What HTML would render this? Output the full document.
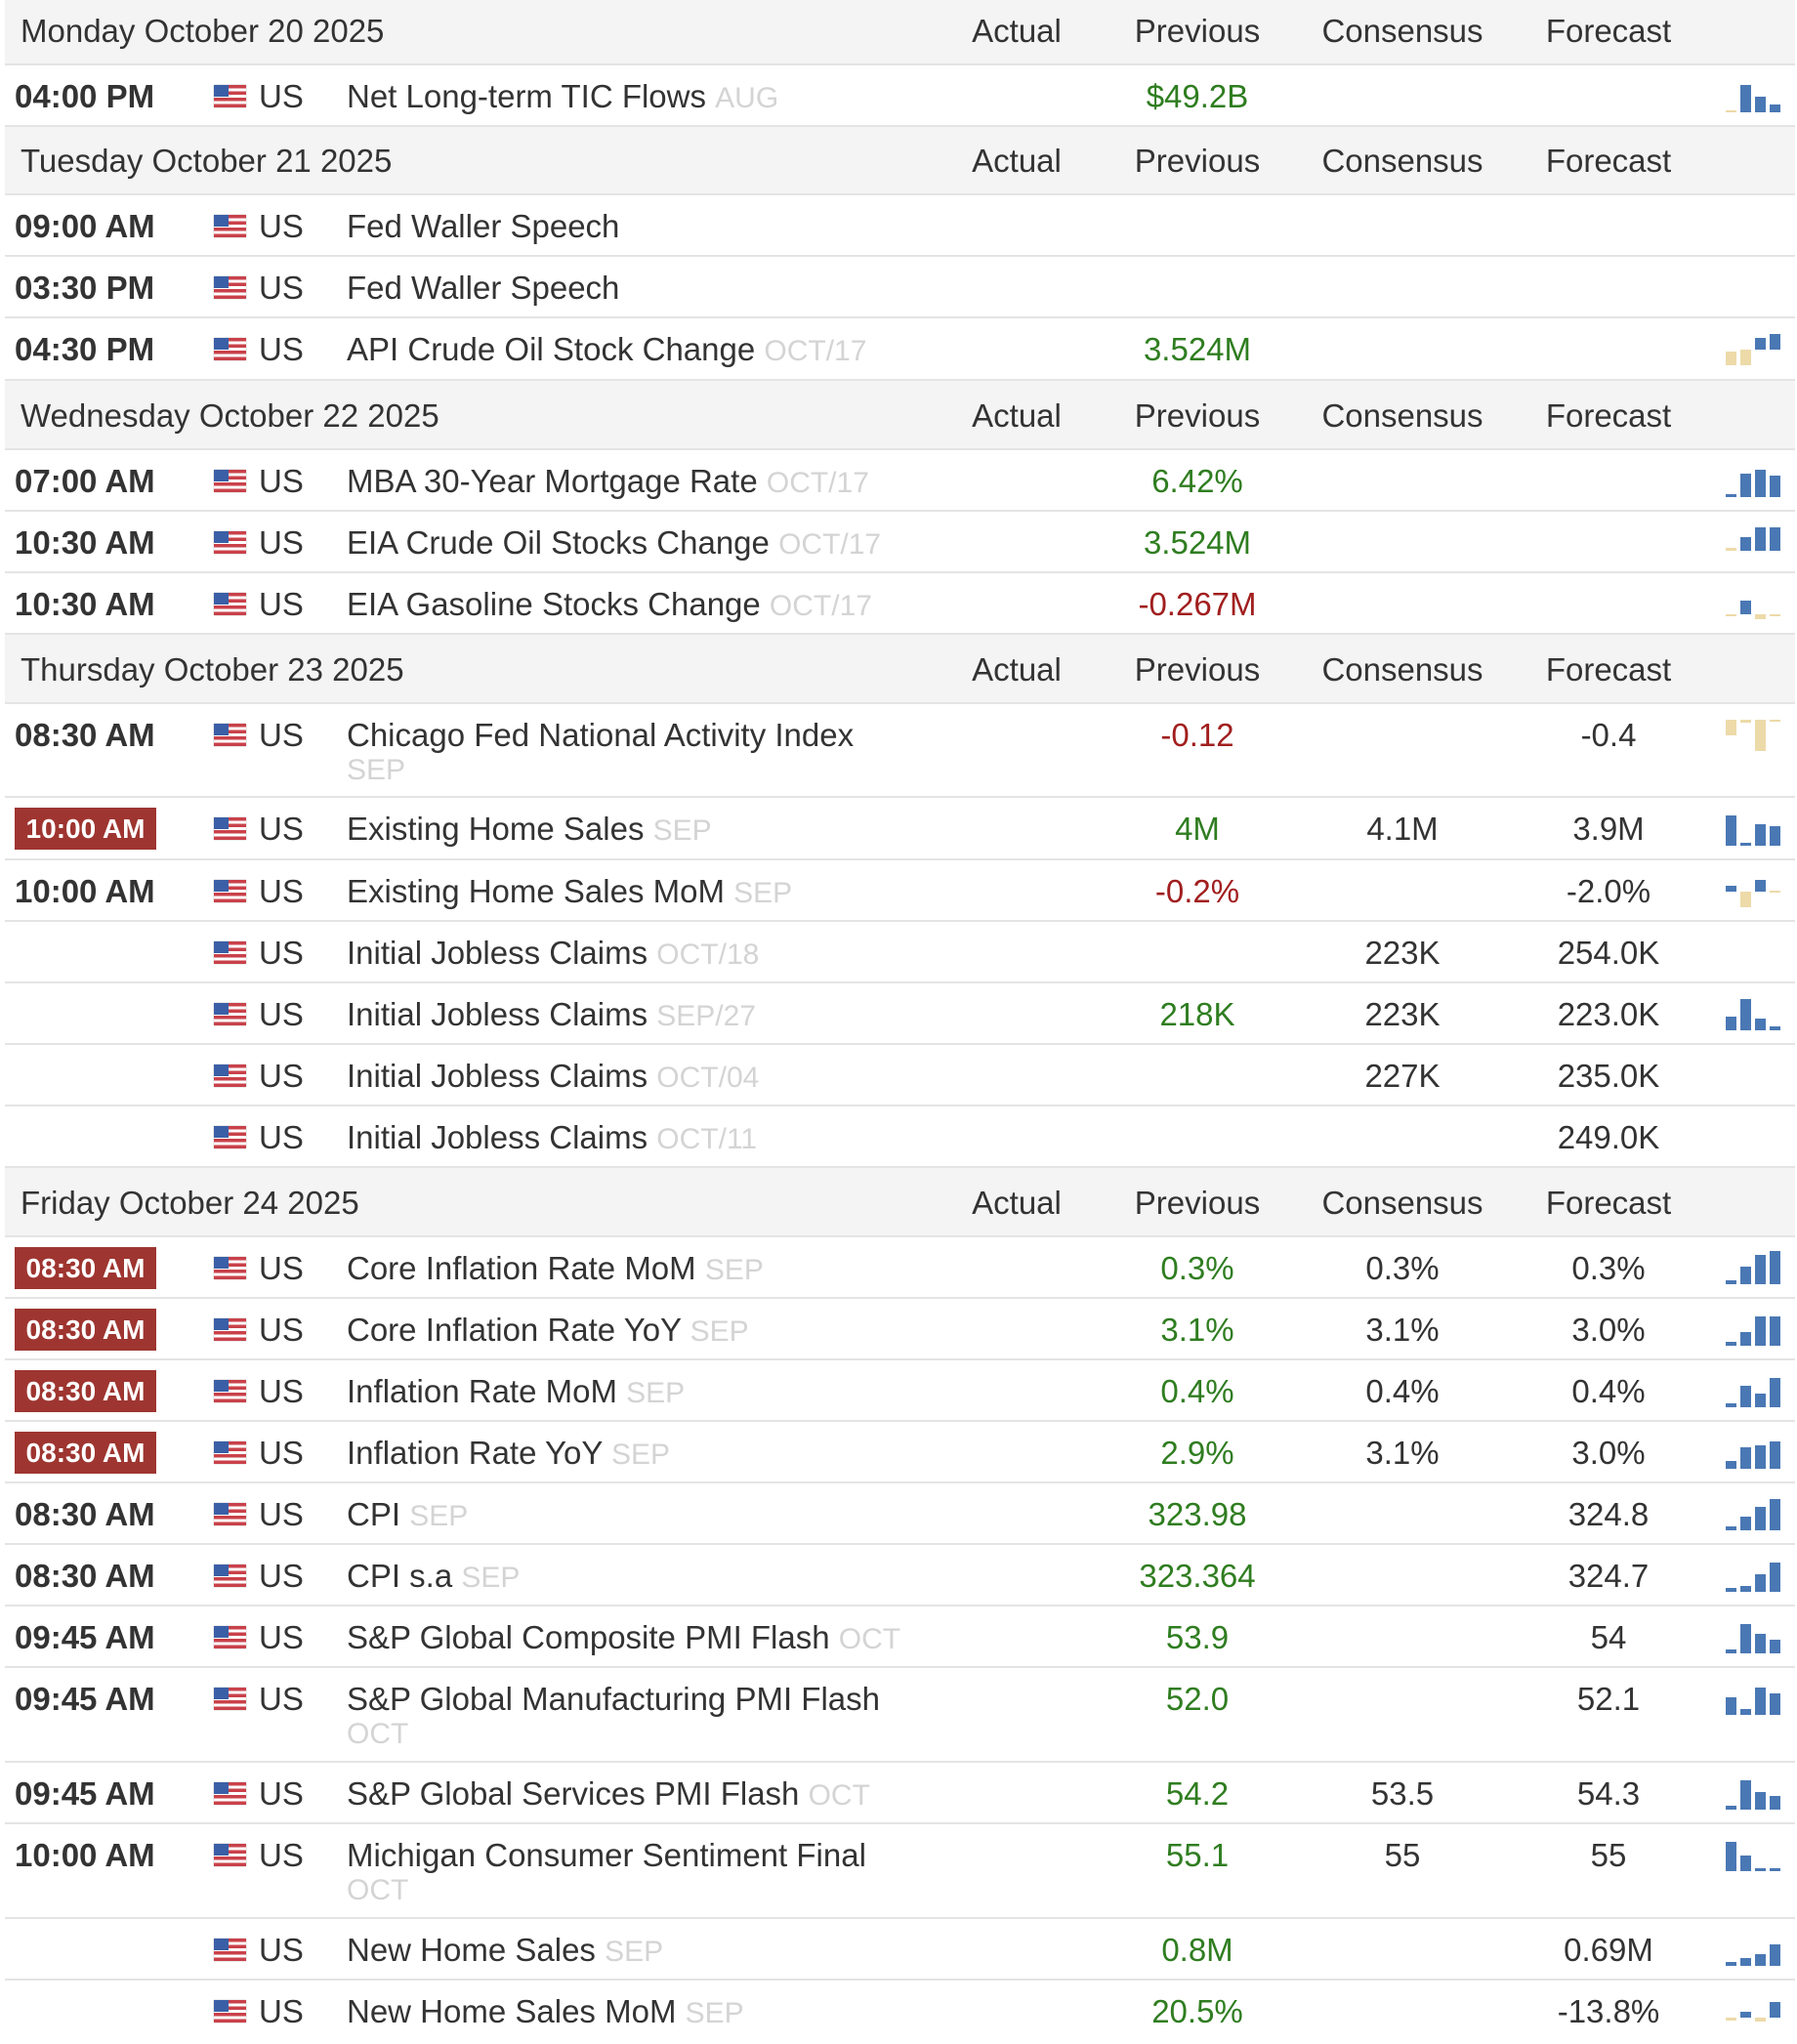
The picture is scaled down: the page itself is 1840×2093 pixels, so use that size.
<!DOCTYPE html>
<html><head><meta charset="utf-8"><style>
body{margin:0;width:1840px;height:2092px;background:#fff;position:relative;overflow:hidden;font-family:"Liberation Sans",Arial,sans-serif;color:#333}
.r{position:absolute;left:5px;width:1833px;border-bottom:2px solid #e4e4e4;box-sizing:border-box;font-size:33px}
.h{background:#f4f4f4}
.r>*{position:absolute;top:1px;line-height:62px;white-space:nowrap}
.d{left:16px}
.t{left:10px;font-weight:bold}
.bd{left:10px;top:10px!important;height:43px;width:145px;line-height:43px!important;background:#9e3530;color:#fff;font-weight:bold;font-size:28px;text-align:center}
.f{left:214px;top:20px!important;width:33px;height:23px;background:linear-gradient(#c9414a 0 15%,#fff 15% 29%,#c9414a 29% 43%,#fff 43% 57%,#c9414a 57% 71%,#fff 71% 85%,#c9414a 85%);box-shadow:0 0 1px #999}
.f:before{content:"";position:absolute;left:0;top:0;width:15px;height:12px;background:#3b5fa6}
.c{left:260px}
.e{left:350px}
.e s,.s2{text-decoration:none;color:#d4d4d4;font-size:30px}
.s2{left:350px;top:37px!important}
.a,.p,.n,.fc{width:200px;text-align:center}
.a{left:936px}.p{left:1121px}.n{left:1331px}.fc{left:1542px}
.g{color:#2f7d20}.rd{color:#a11e1e}
svg{position:absolute;left:1760px;top:12px!important}
.b{fill:#4a78b4}.y{fill:#eddaa9}
</style></head><body>

<div class="r h" style="top:0;height:67px"><span class="d">Monday October 20 2025</span><span class="a">Actual</span><span class="p">Previous</span><span class="n">Consensus</span><span class="fc">Forecast</span></div>
<div class="r" style="top:67px;height:63px"><b class="t">04:00 PM</b><i class="f"></i><span class="c">US</span><span class="e">Net Long-term TIC Flows <s>AUG</s></span><span class="p g">$49.2B</span>
<svg width="60" height="38"><rect class="y" x="2" y="34" width="11" height="2"/><rect class="b" x="17" y="8" width="11" height="28"/><rect class="b" x="32" y="20" width="11" height="16"/><rect class="b" x="47" y="28" width="11" height="8"/></svg></div>

<div class="r h" style="top:130px;height:70px"><span class="d" style="line-height:68px">Tuesday October 21 2025</span><span class="a" style="line-height:68px">Actual</span><span class="p" style="line-height:68px">Previous</span><span class="n" style="line-height:68px">Consensus</span><span class="fc" style="line-height:68px">Forecast</span></div>
<div class="r" style="top:200px;height:63px"><b class="t">09:00 AM</b><i class="f"></i><span class="c">US</span><span class="e">Fed Waller Speech</span></div>
<div class="r" style="top:263px;height:63px"><b class="t">03:30 PM</b><i class="f"></i><span class="c">US</span><span class="e">Fed Waller Speech</span></div>
<div class="r" style="top:326px;height:64px"><b class="t">04:30 PM</b><i class="f"></i><span class="c">US</span><span class="e">API Crude Oil Stock Change <s>OCT/17</s></span><span class="p g">3.524M</span>
<svg width="60" height="38"><rect class="y" x="2" y="22" width="11" height="14"/><rect class="y" x="17" y="20" width="11" height="16"/><rect class="b" x="32" y="8" width="11" height="12"/><rect class="b" x="47" y="4" width="11" height="16"/></svg></div>

<div class="r h" style="top:390px;height:71px"><span class="d" style="line-height:69px">Wednesday October 22 2025</span><span class="a" style="line-height:69px">Actual</span><span class="p" style="line-height:69px">Previous</span><span class="n" style="line-height:69px">Consensus</span><span class="fc" style="line-height:69px">Forecast</span></div>
<div class="r" style="top:461px;height:63px"><b class="t">07:00 AM</b><i class="f"></i><span class="c">US</span><span class="e">MBA 30-Year Mortgage Rate <s>OCT/17</s></span><span class="p g">6.42%</span>
<svg width="60" height="38"><rect class="b" x="2" y="33" width="11" height="3"/><rect class="b" x="17" y="12" width="11" height="24"/><rect class="b" x="32" y="8" width="11" height="28"/><rect class="b" x="47" y="14" width="11" height="22"/></svg></div>
<div class="r" style="top:524px;height:63px"><b class="t">10:30 AM</b><i class="f"></i><span class="c">US</span><span class="e">EIA Crude Oil Stocks Change <s>OCT/17</s></span><span class="p g">3.524M</span>
<svg width="60" height="38" style="top:4px!important"><rect class="y" x="2" y="33" width="11" height="3"/><rect class="b" x="17" y="22" width="11" height="14"/><rect class="b" x="32" y="12" width="11" height="24"/><rect class="b" x="47" y="12" width="11" height="24"/></svg></div>
<div class="r" style="top:587px;height:63px"><b class="t">10:30 AM</b><i class="f"></i><span class="c">US</span><span class="e">EIA Gasoline Stocks Change <s>OCT/17</s></span><span class="p rd">-0.267M</span>
<svg width="60" height="38"><rect class="y" x="2" y="30" width="11" height="2"/><rect class="b" x="17" y="16" width="11" height="14"/><rect class="y" x="32" y="30" width="11" height="5"/><rect class="y" x="47" y="30" width="11" height="2"/></svg></div>

<div class="r h" style="top:650px;height:71px"><span class="d" style="line-height:69px">Thursday October 23 2025</span><span class="a" style="line-height:69px">Actual</span><span class="p" style="line-height:69px">Previous</span><span class="n" style="line-height:69px">Consensus</span><span class="fc" style="line-height:69px">Forecast</span></div>
<div class="r" style="top:721px;height:96px"><b class="t">08:30 AM</b><i class="f"></i><span class="c">US</span><span class="e">Chicago Fed National Activity Index</span><span class="s2">SEP</span><span class="p rd">-0.12</span><span class="fc">-0.4</span>
<svg width="60" height="40" style="top:14px!important"><rect class="y" x="2" y="2" width="11" height="16"/><rect class="y" x="17" y="2" width="11" height="3"/><rect class="y" x="32" y="2" width="11" height="32"/><rect class="y" x="47" y="2" width="11" height="2"/></svg></div>
<div class="r" style="top:817px;height:64px"><span class="bd">10:00 AM</span><i class="f"></i><span class="c">US</span><span class="e">Existing Home Sales <s>SEP</s></span><span class="p g">4M</span><span class="n">4.1M</span><span class="fc">3.9M</span>
<svg width="60" height="40"><rect class="b" x="2" y="6" width="11" height="31"/><rect class="b" x="17" y="34" width="11" height="3"/><rect class="b" x="32" y="15" width="11" height="22"/><rect class="b" x="47" y="17" width="11" height="20"/></svg></div>
<div class="r" style="top:881px;height:63px"><b class="t">10:00 AM</b><i class="f"></i><span class="c">US</span><span class="e">Existing Home Sales MoM <s>SEP</s></span><span class="p rd">-0.2%</span><span class="fc">-2.0%</span>
<svg width="60" height="40"><rect class="b" x="2" y="14" width="11" height="6"/><rect class="y" x="17" y="20" width="11" height="16"/><rect class="b" x="32" y="8" width="11" height="12"/><rect class="y" x="47" y="19" width="11" height="2"/></svg></div>
<div class="r" style="top:944px;height:63px"><i class="f"></i><span class="c">US</span><span class="e">Initial Jobless Claims <s>OCT/18</s></span><span class="n">223K</span><span class="fc">254.0K</span></div>
<div class="r" style="top:1007px;height:63px"><i class="f"></i><span class="c">US</span><span class="e">Initial Jobless Claims <s>SEP/27</s></span><span class="p g">218K</span><span class="n">223K</span><span class="fc">223.0K</span>
<svg width="60" height="40"><rect class="b" x="2" y="22" width="11" height="14"/><rect class="b" x="17" y="4" width="11" height="32"/><rect class="b" x="32" y="24" width="11" height="12"/><rect class="b" x="47" y="32" width="11" height="4"/></svg></div>
<div class="r" style="top:1070px;height:63px"><i class="f"></i><span class="c">US</span><span class="e">Initial Jobless Claims <s>OCT/04</s></span><span class="n">227K</span><span class="fc">235.0K</span></div>
<div class="r" style="top:1133px;height:63px"><i class="f"></i><span class="c">US</span><span class="e">Initial Jobless Claims <s>OCT/11</s></span><span class="fc">249.0K</span></div>

<div class="r h" style="top:1196px;height:71px"><span class="d" style="line-height:69px">Friday October 24 2025</span><span class="a" style="line-height:69px">Actual</span><span class="p" style="line-height:69px">Previous</span><span class="n" style="line-height:69px">Consensus</span><span class="fc" style="line-height:69px">Forecast</span></div>
<div class="r" style="top:1267px;height:63px"><span class="bd">08:30 AM</span><i class="f"></i><span class="c">US</span><span class="e">Core Inflation Rate MoM <s>SEP</s></span><span class="p g">0.3%</span><span class="n">0.3%</span><span class="fc">0.3%</span>
<svg width="60" height="40"><rect class="b" x="2" y="32" width="11" height="4"/><rect class="b" x="17" y="18" width="11" height="18"/><rect class="b" x="32" y="6" width="11" height="30"/><rect class="b" x="47" y="2" width="11" height="34"/></svg></div>
<div class="r" style="top:1330px;height:63px"><span class="bd">08:30 AM</span><i class="f"></i><span class="c">US</span><span class="e">Core Inflation Rate YoY <s>SEP</s></span><span class="p g">3.1%</span><span class="n">3.1%</span><span class="fc">3.0%</span>
<svg width="60" height="40"><rect class="b" x="2" y="32" width="11" height="4"/><rect class="b" x="17" y="22" width="11" height="14"/><rect class="b" x="32" y="6" width="11" height="30"/><rect class="b" x="47" y="6" width="11" height="30"/></svg></div>
<div class="r" style="top:1393px;height:63px"><span class="bd">08:30 AM</span><i class="f"></i><span class="c">US</span><span class="e">Inflation Rate MoM <s>SEP</s></span><span class="p g">0.4%</span><span class="n">0.4%</span><span class="fc">0.4%</span>
<svg width="60" height="40"><rect class="b" x="2" y="32" width="11" height="4"/><rect class="b" x="17" y="14" width="11" height="22"/><rect class="b" x="32" y="22" width="11" height="14"/><rect class="b" x="47" y="6" width="11" height="30"/></svg></div>
<div class="r" style="top:1456px;height:63px"><span class="bd">08:30 AM</span><i class="f"></i><span class="c">US</span><span class="e">Inflation Rate YoY <s>SEP</s></span><span class="p g">2.9%</span><span class="n">3.1%</span><span class="fc">3.0%</span>
<svg width="60" height="40"><rect class="b" x="2" y="28" width="11" height="8"/><rect class="b" x="17" y="14" width="11" height="22"/><rect class="b" x="32" y="12" width="11" height="24"/><rect class="b" x="47" y="8" width="11" height="28"/></svg></div>
<div class="r" style="top:1519px;height:63px"><b class="t">08:30 AM</b><i class="f"></i><span class="c">US</span><span class="e">CPI <s>SEP</s></span><span class="p g">323.98</span><span class="fc">324.8</span>
<svg width="60" height="40"><rect class="b" x="2" y="32" width="11" height="4"/><rect class="b" x="17" y="22" width="11" height="14"/><rect class="b" x="32" y="12" width="11" height="24"/><rect class="b" x="47" y="4" width="11" height="32"/></svg></div>
<div class="r" style="top:1582px;height:63px"><b class="t">08:30 AM</b><i class="f"></i><span class="c">US</span><span class="e">CPI s.a <s>SEP</s></span><span class="p g">323.364</span><span class="fc">324.7</span>
<svg width="60" height="40"><rect class="b" x="2" y="32" width="11" height="4"/><rect class="b" x="17" y="30" width="11" height="6"/><rect class="b" x="32" y="18" width="11" height="18"/><rect class="b" x="47" y="6" width="11" height="30"/></svg></div>
<div class="r" style="top:1645px;height:63px"><b class="t">09:45 AM</b><i class="f"></i><span class="c">US</span><span class="e">S&amp;P Global Composite PMI Flash <s>OCT</s></span><span class="p g">53.9</span><span class="fc">54</span>
<svg width="60" height="40"><rect class="b" x="2" y="32" width="11" height="4"/><rect class="b" x="17" y="6" width="11" height="30"/><rect class="b" x="32" y="16" width="11" height="20"/><rect class="b" x="47" y="22" width="11" height="14"/></svg></div>
<div class="r" style="top:1708px;height:97px"><b class="t">09:45 AM</b><i class="f"></i><span class="c">US</span><span class="e">S&amp;P Global Manufacturing PMI Flash</span><span class="s2">OCT</span><span class="p g">52.0</span><span class="fc">52.1</span>
<svg width="60" height="40"><rect class="b" x="2" y="18" width="11" height="18"/><rect class="b" x="17" y="30" width="11" height="6"/><rect class="b" x="32" y="8" width="11" height="28"/><rect class="b" x="47" y="14" width="11" height="22"/></svg></div>
<div class="r" style="top:1805px;height:63px"><b class="t">09:45 AM</b><i class="f"></i><span class="c">US</span><span class="e">S&amp;P Global Services PMI Flash <s>OCT</s></span><span class="p g">54.2</span><span class="n">53.5</span><span class="fc">54.3</span>
<svg width="60" height="40"><rect class="b" x="2" y="32" width="11" height="4"/><rect class="b" x="17" y="6" width="11" height="30"/><rect class="b" x="32" y="18" width="11" height="18"/><rect class="b" x="47" y="22" width="11" height="14"/></svg></div>
<div class="r" style="top:1868px;height:97px"><b class="t">10:00 AM</b><i class="f"></i><span class="c">US</span><span class="e">Michigan Consumer Sentiment Final</span><span class="s2">OCT</span><span class="p g">55.1</span><span class="n">55</span><span class="fc">55</span>
<svg width="60" height="40"><rect class="b" x="2" y="6" width="11" height="30"/><rect class="b" x="17" y="20" width="11" height="16"/><rect class="b" x="32" y="33" width="11" height="3"/><rect class="b" x="47" y="33" width="11" height="3"/></svg></div>
<div class="r" style="top:1965px;height:63px"><i class="f"></i><span class="c">US</span><span class="e">New Home Sales <s>SEP</s></span><span class="p g">0.8M</span><span class="fc">0.69M</span>
<svg width="60" height="40"><rect class="b" x="2" y="32" width="11" height="4"/><rect class="b" x="17" y="28" width="11" height="8"/><rect class="b" x="32" y="24" width="11" height="12"/><rect class="b" x="47" y="14" width="11" height="22"/></svg></div>
<div class="r" style="top:2028px;height:64px;border-bottom:none"><i class="f"></i><span class="c">US</span><span class="e">New Home Sales MoM <s>SEP</s></span><span class="p g">20.5%</span><span class="fc">-13.8%</span>
<svg width="60" height="40"><rect class="y" x="2" y="26" width="11" height="3"/><rect class="b" x="17" y="20" width="11" height="6"/><rect class="y" x="32" y="26" width="11" height="4"/><rect class="b" x="47" y="10" width="11" height="16"/></svg></div>

</body></html>
